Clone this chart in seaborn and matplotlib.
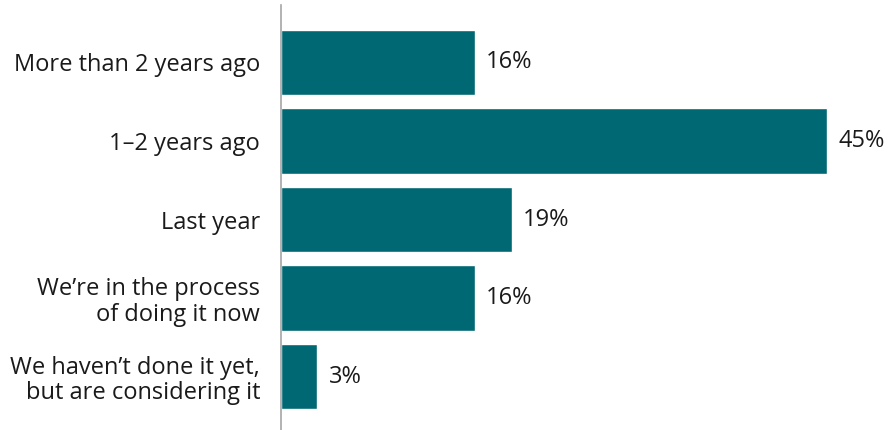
import matplotlib
matplotlib.use("Agg")
import matplotlib.pyplot as plt
import seaborn as sns
import pandas as pd

categories = [
    "More than 2 years ago",
    "1\u20132 years ago",
    "Last year",
    "We\u2019re in the process\nof doing it now",
    "We haven\u2019t done it yet,\nbut are considering it",
]
values = [16, 45, 19, 16, 3]
value_labels = ["16%", "45%", "19%", "16%", "3%"]

sns.set_theme(style="white")
plt.rcParams["font.family"] = ["Open Sans", "DejaVu Sans"]

df = pd.DataFrame({"category": categories, "value": values})

fig = plt.figure(figsize=(8.94, 4.30), dpi=100)
ax = fig.add_axes([281 / 894, 0.0, 613 / 894, 425 / 430])

sns.barplot(data=df, x="value", y="category", order=categories,
            color="#006873", saturation=1, width=0.83, ax=ax)

for patch, lab in zip(ax.patches, value_labels):
    w = patch.get_width()
    yc = patch.get_y() + patch.get_height() / 2
    ax.annotate(lab, xy=(w, yc), xytext=(8, 0), textcoords="offset points",
                ha="left", va="center", fontsize=17, color="#1a1a1a")

ax.set_xlim(0, 613 / 546 * 45)
ax.set_ylim(4.68, -0.732)
ax.set_xlabel("")
ax.set_ylabel("")
ax.set_xticks([])
ax.tick_params(axis="y", length=0, pad=15, labelsize=17, labelcolor="#1a1a1a")
for lbl in ax.get_yticklabels():
    lbl.set_linespacing(1.08)

for side in ["top", "right", "bottom"]:
    ax.spines[side].set_visible(False)
ax.spines["left"].set_color("#a6a6a6")
ax.spines["left"].set_linewidth(1.2)

fig.savefig("out.png", dpi=100)
